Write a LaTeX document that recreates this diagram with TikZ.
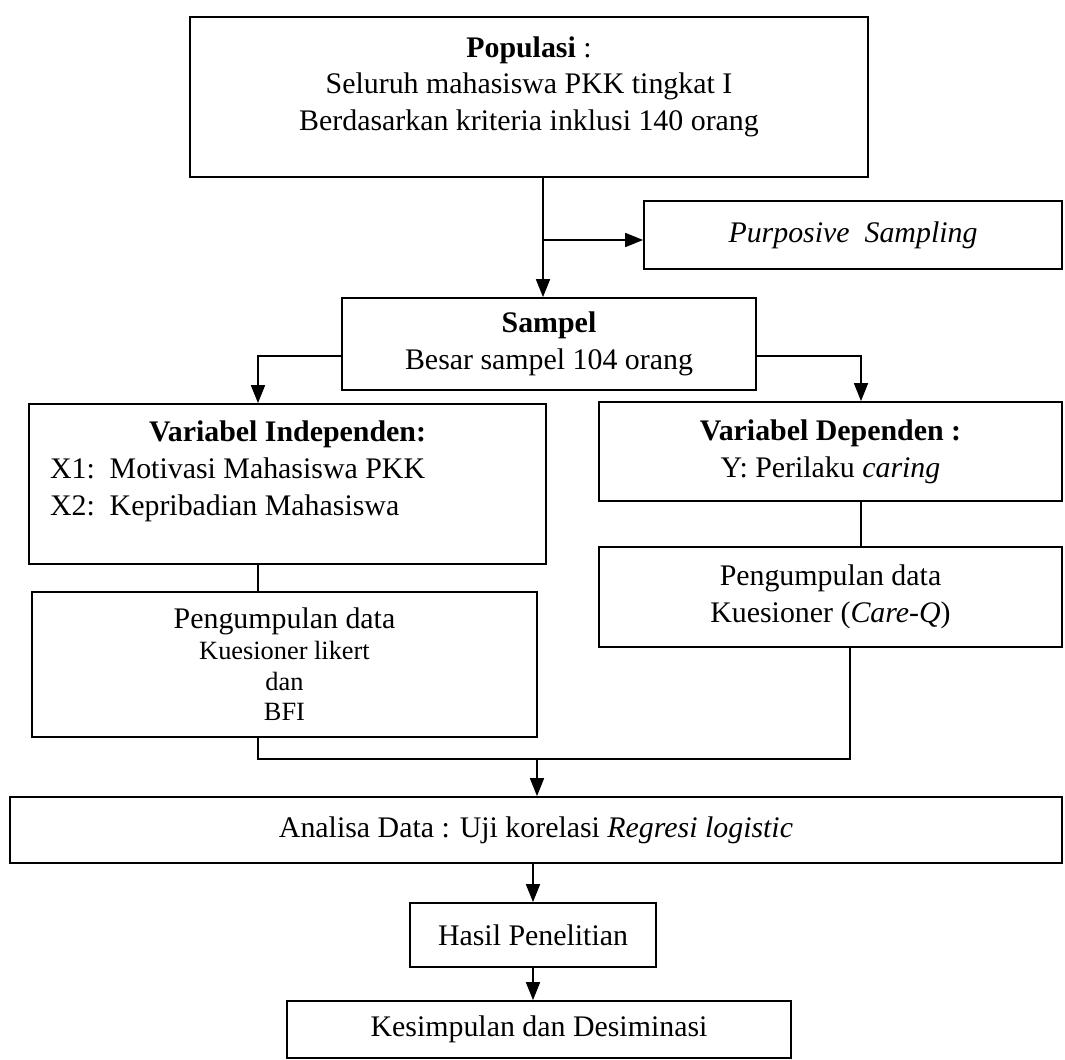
\documentclass[tikz,border=0pt]{standalone}
\usepackage{fontspec}
\setmainfont{Liberation Serif}
\usetikzlibrary{positioning,arrows.meta}

\begin{document}
\begin{tikzpicture}[
  box/.style={draw,line width=1pt,inner sep=0pt,align=center,font=\fontsize{17}{21}\selectfont},
  arrow/.style={-{Triangle[length=0.36cm,width=0.28cm]},line width=1pt},
  line/.style={line width=1pt}
]
  \useasboundingbox[fill=white] (0,0) rectangle (21.3,-21.2);

  \node[box,minimum width=13.56cm,minimum height=3.2cm] (pop) at (10.58,-1.94)
    {\textbf{Populasi} :\\Seluruh mahasiswa PKK tingkat I\\Berdasarkan kriteria inklusi 140 orang\\[-0.2cm]\mbox{}};
  \node[box,minimum width=8.36cm,minimum height=1.36cm] (purp) at (17.06,-4.70)
    {\textit{Purposive\ \ Sampling}};
  \node[box,minimum width=8.28cm,minimum height=1.84cm] (samp) at (10.98,-6.88)
    {\textbf{Sampel}\\Besar sampel 104 orang};
  \node[box,minimum width=10.34cm,minimum height=3.2cm] (indep) at (5.75,-9.68)
    {\makebox[9.5cm]{\textbf{Variabel Independen:}}\\
     \makebox[9.5cm][l]{X1:\ \ Motivasi Mahasiswa PKK}\\
     \makebox[9.5cm][l]{X2:\ \ Kepribadian Mahasiswa}\\[-0.1cm]\mbox{}};
  \node[box,minimum width=9.26cm,minimum height=1.98cm] (dep) at (16.61,-9.03)
    {\textbf{Variabel Dependen :}\\Y: Perilaku \textit{caring}};
  \node[box,font=\fontsize{15}{17.5}\selectfont,minimum width=10.1cm,minimum height=2.9cm] (peng1) at (5.69,-13.29)
    {{\fontsize{17}{17.5}\selectfont Pengumpulan data}\\Kuesioner likert\\dan\\BFI};
  \node[box,minimum width=9.26cm,minimum height=2cm] (peng2) at (16.61,-11.94)
    {Pengumpulan data\\Kuesioner (\textit{Care-Q})};
  \node[box,minimum width=21.04cm,minimum height=1.32cm] (ana) at (10.72,-16.60)
    {Analisa Data : Uji korelasi \textit{Regresi logistic}};
  \node[box,minimum width=4.92cm,minimum height=1.28cm] (hasil) at (10.66,-18.70)
    {Hasil Penelitian};
  \node[box,minimum width=10.08cm,minimum height=1.14cm] (kes) at (10.78,-20.59)
    {Kesimpulan dan Desiminasi};

  % junctions
  \coordinate (j1) at (10.86,-4.80);
  \coordinate (lcol) at (5.16,-7.12);
  \coordinate (rcol) at (17.22,-7.12);
  \coordinate (mrg) at (10.74,-15.18);
  \coordinate (rjoin) at (17.00,-15.18);

  \draw[arrow] (pop.south -| j1) -- (samp.north -| j1);
  \draw[arrow] (j1) -- (purp.west |- j1);
  \draw[arrow] (samp.west |- lcol) -| (indep.north -| lcol);
  \draw[arrow] (samp.east |- rcol) -| (dep.north -| rcol);
  \draw[line] (indep.south -| lcol) -- (peng1.north -| lcol);
  \draw[line] (dep.south -| rcol) -- (peng2.north -| rcol);
  \draw[line] (peng1.south -| lcol) |- (rjoin) -- (peng2.south -| rjoin);
  \draw[arrow] (mrg) -- (ana.north -| mrg);
  \draw[arrow] (ana.south -| hasil.north) -- (hasil.north);
  \draw[arrow] (hasil.south) -- (kes.north -| hasil.south);
\end{tikzpicture}
\end{document}
